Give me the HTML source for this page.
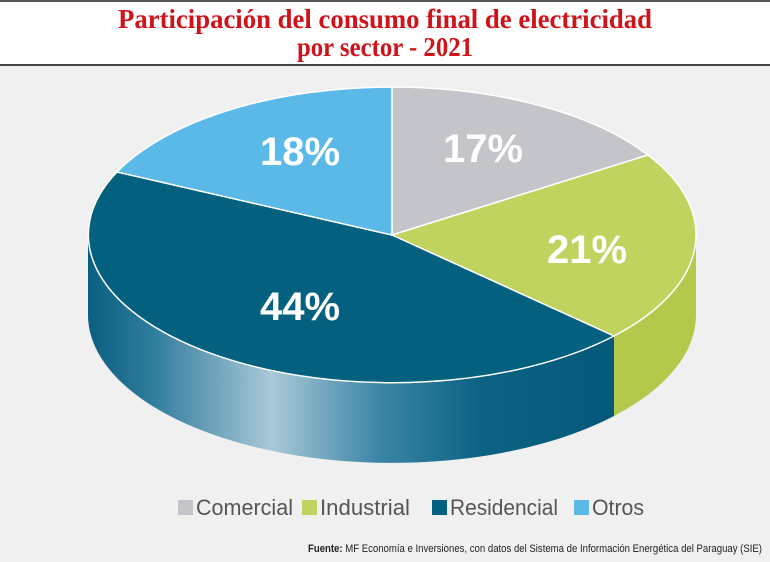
<!DOCTYPE html>
<html><head><meta charset="utf-8"><style>
html,body{margin:0;padding:0;background:#f0f0f0;}
svg{display:block;}
</style></head><body>
<svg width="770" height="562" viewBox="0 0 770 562" xmlns="http://www.w3.org/2000/svg">
<defs>
<linearGradient id="res" x1="88" y1="0" x2="614" y2="0" gradientUnits="userSpaceOnUse">
<stop offset="0" stop-color="#0a5f80"/>
<stop offset="0.12" stop-color="#2f7c9c"/>
<stop offset="0.35" stop-color="#a9c8d8"/>
<stop offset="0.55" stop-color="#3d86a6"/>
<stop offset="0.75" stop-color="#0b6283"/>
<stop offset="1" stop-color="#04597a"/>
</linearGradient>
</defs>
<rect x="0" y="0" width="770" height="562" fill="#f0f0f0"/>
<rect x="0" y="0" width="770" height="65" fill="#ffffff"/>
<line x1="0" y1="1" x2="770" y2="1" stroke="#555" stroke-width="2"/>
<line x1="0" y1="65" x2="770" y2="65" stroke="#444" stroke-width="2"/>
<g font-family="Liberation Serif, serif" font-weight="bold" fill="#d0121b" font-size="27" text-anchor="middle">
<text x="385" y="28" textLength="534" lengthAdjust="spacingAndGlyphs">Participación del consumo final de electricidad</text>
<text x="385" y="56" textLength="176" lengthAdjust="spacingAndGlyphs">por sector - 2021</text>
</g>
<!-- sides -->
<path d="M88,235 L88,315 A304,148 0 0 0 614,416 L614,336 A304,148 0 0 1 88,235 Z" fill="url(#res)"/>
<path d="M614,336 L614,416 A304,148 0 0 0 696,315 L696,235 A304,148 0 0 1 614,336 Z" fill="#b2c94c"/>
<!-- top -->
<path d="M392,235 L392,87 A304,148 0 0 1 648,155 Z" fill="#c4c5ca" stroke="#fff" stroke-width="1.5"/>
<path d="M392,235 L648,155 A304,148 0 0 1 614,336 Z" fill="#bfd35e" stroke="#fff" stroke-width="1.5"/>
<path d="M392,235 L614,336 A304,148 0 0 1 117,172 Z" fill="#04607f" stroke="#fff" stroke-width="1.5"/>
<path d="M392,235 L117,172 A304,148 0 0 1 392,87 Z" fill="#5ab9e6" stroke="#fff" stroke-width="1.5"/>
<g font-family="Liberation Sans, sans-serif" font-weight="bold" fill="#fff" font-size="40" text-anchor="middle">
<text x="483" y="162">17%</text>
<text x="587" y="263">21%</text>
<text x="300" y="320">44%</text>
<text x="300" y="165">18%</text>
</g>
<g font-family="Liberation Sans, sans-serif" font-size="22" fill="#555">
<rect x="178" y="500" width="15" height="15" fill="#c4c5ca"/><text x="196" y="515" textLength="97" lengthAdjust="spacingAndGlyphs">Comercial</text>
<rect x="302" y="500" width="15" height="15" fill="#bfd35e"/><text x="320" y="515" textLength="90" lengthAdjust="spacingAndGlyphs">Industrial</text>
<rect x="432" y="500" width="15" height="15" fill="#04607f"/><text x="450" y="515" textLength="108" lengthAdjust="spacingAndGlyphs">Residencial</text>
<rect x="574" y="500" width="15" height="15" fill="#5ab9e6"/><text x="592" y="515" textLength="52" lengthAdjust="spacingAndGlyphs">Otros</text>
</g>
<text x="762" y="552" text-anchor="end" font-family="Liberation Sans, sans-serif" font-size="11" fill="#222" textLength="454" lengthAdjust="spacingAndGlyphs"><tspan font-weight="bold">Fuente:</tspan> MF Economía e Inversiones, con datos del Sistema de Información Energética del Paraguay (SIE)</text>
</svg>
</body></html>
